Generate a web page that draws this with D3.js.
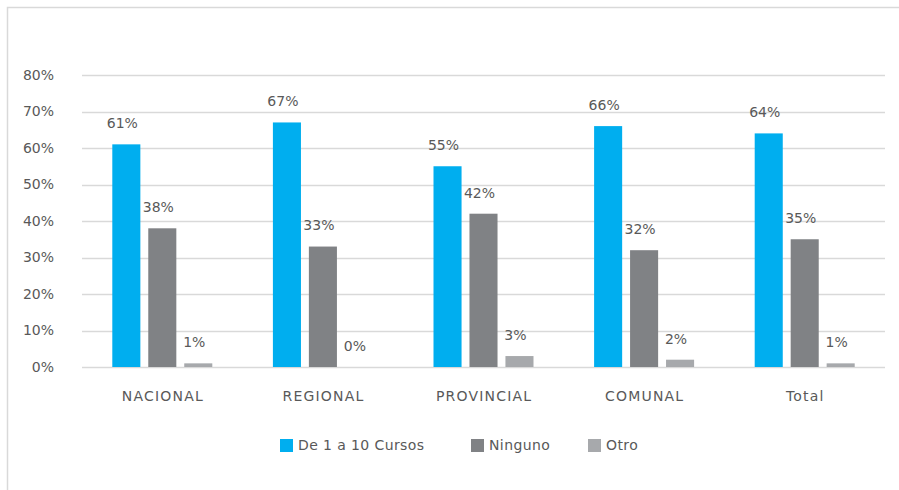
<!DOCTYPE html>
<html>
<head>
<meta charset="utf-8">
<script src="https://cdn.jsdelivr.net/npm/d3@7"></script>
<style>
  body { margin: 0; background: #fff; }
  text { font-family: "DejaVu Sans", sans-serif; fill: #595959; }
</style>
</head>
<body>
<script>
'use strict';

// chart data
const categories = ["NACIONAL", "REGIONAL", "PROVINCIAL", "COMUNAL", "Total"];
const seriesNames = ["De 1 a 10 Cursos", "Ninguno", "Otro"];
const cursos = [61, 67, 55, 66, 64];
const ninguno = [38, 33, 42, 32, 35];
const otro = [1, 0, 3, 2, 1];
const yTicks = [0, 10, 20, 30, 40, 50, 60, 70, 80];
const colors = ["#00AEEF", "#808285", "#A7A9AC"];

(function () {
  const width = 899, height = 490;
  const plot = { left: 82, right: 885, top: 75, bottom: 367 };

  let svg = d3.select("body").append("svg")
    .attr("width", width)
    .attr("height", height);

  // chart frame
  svg.append("path")
    .attr("d", "M7.5," + height + "V7.5H" + width)
    .attr("fill", "none")
    .attr("stroke", "#d9d9d9")
    .attr("stroke-width", 1.5);

  let x0 = d3.scaleBand()
    .domain(categories)
    .range([plot.left, plot.right]);

  let x1 = d3.scaleBand()
    .domain(seriesNames)
    .range([0, 100])
    .paddingInner(0.22);

  let y = d3.scaleLinear()
    .domain([0, 80])
    .range([plot.bottom, plot.top]);

  // gridlines
  svg.append("g").selectAll("line")
    .data(yTicks)
    .enter()
    .append("line")
    .attr("x1", plot.left)
    .attr("x2", plot.right)
    .attr("y1", (d) => Math.round(y(d)) + 0.5)
    .attr("y2", (d) => Math.round(y(d)) + 0.5)
    .attr("stroke", "#d9d9d9")
    .attr("stroke-width", 1.5);

  // y tick labels
  svg.append("g").selectAll("text")
    .data(yTicks)
    .enter()
    .append("text")
    .attr("x", 54)
    .attr("y", (d) => y(d))
    .attr("dy", "0.35em")
    .attr("text-anchor", "end")
    .style("font-size", "14px")
    .text((d) => d + "%");

  // category labels (letter-spaced to mimic the wide original face)
  svg.append("g").selectAll("text")
    .data(categories)
    .enter()
    .append("text")
    .attr("x", (d) => x0(d) + x0.bandwidth() / 2 + 0.6)
    .attr("y", 396)
    .attr("dy", "0.35em")
    .attr("text-anchor", "middle")
    .style("font-size", "14px")
    .style("letter-spacing", "1.2px")
    .text((d) => d);

  let series = [cursos, ninguno, otro];
  let groupOffset = (x0.bandwidth() - 100) / 2;

  series.forEach(function (values, i) {
    let name = seriesNames[i];
    let g = svg.append("g");
    g.selectAll("rect")
      .data(values)
      .enter()
      .append("rect")
      .attr("x", (d, j) => x0(categories[j]) + groupOffset + x1(name))
      .attr("y", (d) => y(d))
      .attr("width", x1.bandwidth())
      .attr("height", (d) => y(0) - y(d))
      .attr("fill", colors[i]);

    g.selectAll("text")
      .data(values)
      .enter()
      .append("text")
      .attr("x", (d, j) => x0(categories[j]) + groupOffset + x1(name) + x1.bandwidth() / 2 - 4)
      .attr("y", (d) => y(d) - 21)
      .attr("dy", "0.35em")
      .attr("text-anchor", "middle")
      .style("font-size", "14px")
      .text((d) => d + "%");
  });

  // legend
  let legendX = [280, 471, 588];
  let legend = svg.append("g").selectAll("g")
    .data(seriesNames)
    .enter()
    .append("g")
    .attr("transform", (d, i) => "translate(" + legendX[i] + ", 445)");

  legend.append("rect")
    .attr("x", 0)
    .attr("y", -6)
    .attr("width", 13)
    .attr("height", 13)
    .attr("fill", (d, i) => colors[i]);

  legend.append("text")
    .attr("x", 18)
    .attr("y", 0)
    .attr("dy", "0.35em")
    .style("font-size", "14px")
    .style("letter-spacing", "0.4px")
    .text((d) => d);
})();
</script>
</body>
</html>
